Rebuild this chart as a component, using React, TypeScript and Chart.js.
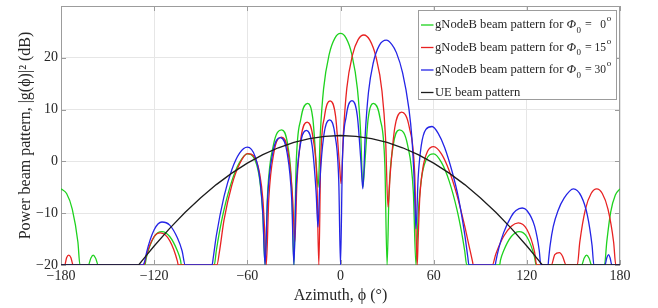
import React, { useEffect, useRef } from 'react';
import { Chart, registerables } from 'chart.js';

Chart.register(...registerables);

// ---------- axis / label content ----------
const X_TICKS = [-180, -120, -60, 0, 60, 120, 180];
const Y_TICKS = [-20, -10, 0, 10, 20];
const STEER_ANGLES = [0, 15, 30];
const SERIES_PREFIX = 'gNodeB beam pattern for ';
const UE_LABEL = 'UE beam pattern';
const X_TITLE = 'Azimuth, \u03D5 (\u00B0)';
const Y_TITLE = 'Power beam pattern, |g(\u03D5)|\u00B2 (dB)';

// ---------- data (azimuth in degrees, power in dB, clamped at -20) ----------
const GREEN_AZ = [
  -180, -176.4, -172.75, -169.1, -167.8, -162.4, -160.8, -159.3, -157.7, -156,
  -126, -125, -120, -115, -110, -105, -103, -102.5,
  -81.3, -80, -78, -75, -70, -65, -60, -55, -52, -50, -48.6,
  -46.9, -43.25, -37.9, -33.95, -31.26, -30,
  -28.58, -25.55, -21.1, -17.8, -15.56, -14.4,
  -13, -10.9, -7.25, -3.6, 0, 3.6, 7.25, 10.9, 13, 14.4,
  15.56, 17.8, 21.1, 25.55, 28.58, 30,
  31.26, 33.95, 37.9, 43.25, 46.9, 48.6,
  50, 52, 55, 60, 65, 70, 75, 78, 80, 81.3,
  102.5, 103, 105, 110, 115, 120, 125, 126,
  155.3, 156.9, 158.5, 160.1, 161.7,
  170, 171.5, 174, 177, 180,
];
const GREEN_DB = [
  -5.3, -6.2, -9.2, -15.6, -20, -20, -18.7, -18.1, -18.7, -20,
  -20, -18.5, -14.55, -13.55, -14.5, -17.3, -19.1, -20,
  -20, -17.3, -13.7, -9.3, -3.8, -0.2, 1.45, 0.2, -3.6, -10.4, -20,
  -5.9, 3.1, 6.1, 3.1, -5.9, -20,
  -0.8, 8.2, 11.2, 8.2, -0.8, -5.0,
  5.4, 14.0, 20.7, 23.8, 24.7, 23.8, 20.7, 14.0, 5.4, -5.0,
  -0.8, 8.2, 11.2, 8.2, -0.8, -20,
  -5.9, 3.1, 6.1, 3.1, -5.9, -20,
  -10.4, -3.6, 0.2, 1.45, -0.2, -3.8, -9.3, -13.7, -17.3, -20,
  -20, -19.1, -17.3, -14.5, -13.55, -14.55, -18.5, -20,
  -20, -18.7, -18.1, -18.7, -20,
  -20, -15.5, -9.8, -6.5, -5.3,
];

const RED_AZ = [
  -180, -177.6, -176.4, -175.0, -173.6, -172.2,
  -126.5, -125, -120, -116, -110, -105, -104.5,
  -79.6, -78, -75, -70, -65, -60, -55, -52, -50, -49, -47.8,
  -46.2, -42.9, -38.0, -33.7, -30.8, -29.4,
  -28.1, -25.45, -21.5, -17.7, -15.15, -13.95,
  -12.8, -10.3, -6.7, -3.15, -0.75, 0.4,
  1.85, 4.05, 7.7, 11.35, 15, 18.9, 22.8, 26.7, 29.0, 30.6,
  32.0, 34.95, 39.3, 44.35, 47.8, 49.4,
  50, 51, 53, 56, 60, 65, 70, 75, 80, 83, 85, 85.5,
  97.8, 100, 105, 110, 114.5, 120, 125, 126.3,
  135.8, 138, 141, 143, 145.3,
  152.5, 154.1, 157.75, 161.4, 165, 168.6, 172.25, 175.9, 177.3, 180,
];
const RED_DB = [
  -20, -20, -18.6, -18.1, -18.6, -20,
  -20, -18.1, -14.5, -13.8, -15.3, -19.3, -20,
  -20, -17.5, -11.3, -4.6, -0.5, 1.5, 0.6, -2.45, -7.3, -12.4, -20,
  -7.3, 1.7, 4.7, 1.7, -7.3, -15.5,
  -4.4, 4.6, 7.6, 4.6, -4.4, -20,
  -0.3, 8.7, 11.7, 8.7, -0.3, -4.3,
  5.3, 14.1, 20.5, 23.5, 24.4, 23.4, 20.2, 13.6, 4.6, -8.8,
  -2.5, 6.5, 9.5, 6.5, -2.5, -20,
  -15.0, -7.3, -1.4, 1.9, 2.85, 1.45, -1.8, -6.5, -12.5, -16.6, -19.3, -20,
  -20, -17.9, -14.5, -12.5, -11.85, -13.1, -17.5, -20,
  -20, -18.0, -17.6, -18.3, -20,
  -20, -15.6, -9.2, -6.2, -5.3, -6.2, -9.2, -15.6, -20, -20,
];

const BLUE_AZ = [
  -180, -127.5, -126, -125, -120, -115, -110, -105, -102, -100,
  -82.7, -82, -80, -75, -70, -65, -60, -55, -52, -50, -48.6,
  -47.0, -43.65, -38.7, -34.35, -31.4, -30,
  -28.7, -26, -22, -18.25, -15.7, -14.5,
  -13.3, -10.75, -7.0, -3.5, -1.1, 0,
  1.2, 3.7, 7.4, 10.85, 13.2, 14.4,
  16, 18, 21, 25, 29.5, 33, 36, 40, 44, 46, 47.5, 48.6,
  50, 52, 55, 59, 63, 67, 72, 76, 80, 82, 82.7,
  99.7, 100, 102, 105, 110, 113, 117, 120, 125, 128, 129,
  133.7, 134, 135, 137, 140, 144, 150, 155, 159, 162, 163.2,
  170.3, 171.5, 172.6, 173.6, 174.8, 180,
];
const BLUE_DB = [
  -20, -20, -19.2, -17.7, -13.2, -11.7, -12.3, -14.8, -17.3, -20,
  -20, -18.7, -14.4, -6.75, -1.6, 1.6, 2.77, 0.96, -3.2, -10.2, -20,
  -7.4, 1.6, 4.6, 1.6, -7.4, -20,
  -6.0, 3.0, 6.0, 3.0, -6.0, -12.7,
  -4.0, 5.0, 8.0, 5.0, -4.0, -20,
  -0.25, 8.75, 11.75, 8.75, -0.25, -5.3,
  5.5, 13.3, 18.9, 22.4, 23.4, 22.6, 21.0, 17.1, 10.3, 4.45, -3.9, -13.0,
  -3.2, 3.05, 6.2, 6.74, 5.37, 2.73, -2.1, -7.1, -14.1, -18.5, -20,
  -20, -19.4, -16.7, -13.8, -10.6, -9.5, -9.0, -9.46, -12.5, -17.2, -20,
  -20, -19.0, -16.2, -12.6, -9.56, -7.1, -5.3, -6.7, -10.4, -16.2, -20,
  -20, -18.6, -18.0, -18.6, -20, -20,
];

const UE_AZ = [
  -180, -130, -125, -120, -110, -100, -90, -80, -70, -60, -50, -40, -30, -20, -10,
  0, 10, 20, 30, 40, 50, 60, 70, 80, 90, 100, 110, 120, 125, 130, 180,
];
const UE_DB = [
  -20, -20, -18.15, -16.33, -12.93, -9.81, -7.0, -4.48, -2.26, -0.33, 1.3, 2.63, 3.67, 4.41, 4.85,
  5.0, 4.85, 4.41, 3.67, 2.63, 1.3, -0.33, -2.26, -4.48, -7.0, -9.81, -12.93, -16.33, -18.15, -20, -20,
];

// ---------- styles ----------
const FONT = '"Liberation Serif", "Times New Roman", Times, serif';
const TEXT_COLOR = '#262626';
const BOX_COLOR = '#9c9c9c';
const GRID_COLOR = '#e6e6e6';
const COLORS = ['#1ed21e', '#e82222', '#2424e6', '#1c1c1c'];

const toPoints = (az: number[], db: number[]) => az.map((x, i) => ({ x, y: db[i] }));
const fmt = (v: number) => String(v).replace('-', '\u2212');

const framePlugin = {
  id: 'matlabFrame',
  beforeDatasetsDraw(chart: any) {
    const { ctx, chartArea, scales } = chart;
    const { left, right, top, bottom } = chartArea;
    const xs = scales.x;
    const ys = scales.y;
    ctx.save();
    ctx.strokeStyle = BOX_COLOR;
    ctx.lineWidth = 1;
    ctx.strokeRect(left + 0.5, top + 0.5, right - left - 1, bottom - top - 1);
    const tl = 5;
    ctx.beginPath();
    X_TICKS.forEach((v) => {
      const px = Math.round(xs.getPixelForValue(v)) + 0.5;
      ctx.moveTo(px, bottom);
      ctx.lineTo(px, bottom - tl);
      ctx.moveTo(px, top);
      ctx.lineTo(px, top + tl);
    });
    Y_TICKS.forEach((v) => {
      const py = Math.round(ys.getPixelForValue(v)) + 0.5;
      ctx.moveTo(left, py);
      ctx.lineTo(left + tl, py);
      ctx.moveTo(right, py);
      ctx.lineTo(right - tl, py);
    });
    ctx.stroke();
    ctx.restore();
  },
  afterDatasetsDraw(chart: any) {
    const { ctx } = chart;
    ctx.save();
    const bx = 418.5, by = 10.5, bw = 198, bh = 89;
    ctx.fillStyle = '#ffffff';
    ctx.fillRect(bx, by, bw, bh);
    ctx.strokeStyle = BOX_COLOR;
    ctx.lineWidth = 1;
    ctx.strokeRect(bx, by, bw, bh);
    ctx.textBaseline = 'middle';
    for (let i = 0; i < 4; i++) {
      const cy = 25 + i * 22.5;
      ctx.strokeStyle = COLORS[i];
      ctx.lineWidth = 1.3;
      ctx.beginPath();
      ctx.moveTo(421, cy);
      ctx.lineTo(433.5, cy);
      ctx.stroke();
      ctx.fillStyle = TEXT_COLOR;
      ctx.textAlign = 'left';
      ctx.font = `12.6px ${FONT}`;
      if (i === 3) {
        ctx.fillText(UE_LABEL, 435, cy);
        continue;
      }
      ctx.fillText(SERIES_PREFIX, 435, cy);
      let x = 435 + ctx.measureText(SERIES_PREFIX).width;
      ctx.font = `italic 12.6px ${FONT}`;
      ctx.fillText('\u03A6', x, cy);
      x += ctx.measureText('\u03A6').width;
      ctx.font = `9px ${FONT}`;
      ctx.fillText('0', x + 0.5, cy + 5.5);
      ctx.font = `12px ${FONT}`;
      ctx.fillText('=', 585, cy);
      ctx.font = `11.5px ${FONT}`;
      ctx.textAlign = 'right';
      ctx.fillText(String(STEER_ANGLES[i]), 606, cy);
      ctx.textAlign = 'left';
      ctx.font = `9px ${FONT}`;
      ctx.fillText('o', 606.8, cy - 6);
    }
    ctx.restore();
  },
};

export default function App() {
  const ref = useRef<HTMLCanvasElement>(null);

  useEffect(() => {
    const canvas = ref.current;
    if (!canvas) return;
    const mk = (label: string, az: number[], db: number[], color: string, order: number, smooth: boolean) => ({
      label,
      data: toPoints(az, db),
      borderColor: color,
      backgroundColor: color,
      borderWidth: 1.3,
      pointRadius: 0,
      fill: false,
      order,
      tension: 0,
      cubicInterpolationMode: smooth ? 'monotone' : 'default',
      borderJoinStyle: 'round',
    });
    const chart = new Chart(canvas, {
      type: 'line',
      data: {
        datasets: [
          mk('gNodeB beam pattern for \u03A60 = 0\u00B0', GREEN_AZ, GREEN_DB, COLORS[0], 3, true),
          mk('gNodeB beam pattern for \u03A60 = 15\u00B0', RED_AZ, RED_DB, COLORS[1], 2, true),
          mk('gNodeB beam pattern for \u03A60 = 30\u00B0', BLUE_AZ, BLUE_DB, COLORS[2], 1, true),
          mk(UE_LABEL, UE_AZ, UE_DB, COLORS[3], 0, false),
        ] as any,
      },
      options: {
        responsive: false,
        animation: false,
        devicePixelRatio: 1,
        layout: { padding: { left: 0, right: 38, top: 6, bottom: 0 } },
        plugins: { legend: { display: false }, tooltip: { enabled: false } },
        scales: {
          x: {
            type: 'linear',
            min: -180,
            max: 180,
            afterBuildTicks: (s: any) => { s.ticks = X_TICKS.map((v) => ({ value: v })); },
            afterFit: (s: any) => { s.height = 43; s.paddingLeft = 0; s.paddingRight = 0; },
            grid: { color: GRID_COLOR, drawTicks: false, lineWidth: 1 },
            border: { display: false },
            ticks: {
              font: { family: FONT, size: 14 },
              color: TEXT_COLOR,
              padding: 3,
              maxRotation: 0,
              autoSkip: false,
              callback: (v: any) => fmt(Number(v)),
            },
            title: {
              display: true,
              text: X_TITLE,
              font: { family: FONT, size: 16 },
              color: TEXT_COLOR,
              padding: { top: 0, bottom: 3 },
            },
          },
          y: {
            type: 'linear',
            min: -20,
            max: 30,
            afterBuildTicks: (s: any) => { s.ticks = Y_TICKS.map((v) => ({ value: v })); },
            afterFit: (s: any) => { s.width = 61; s.paddingTop = 0; s.paddingBottom = 0; },
            grid: { color: GRID_COLOR, drawTicks: false, lineWidth: 1 },
            border: { display: false },
            ticks: {
              font: { family: FONT, size: 14 },
              color: TEXT_COLOR,
              padding: 3,
              callback: (v: any) => fmt(Number(v)),
            },
            title: {
              display: true,
              text: Y_TITLE,
              font: { family: FONT, size: 16 },
              color: TEXT_COLOR,
              padding: { top: 16, bottom: 0 },
            },
          },
        },
      } as any,
      plugins: [framePlugin],
    });
    return () => chart.destroy();
  }, []);

  return (
    <div style={{ position: 'absolute', left: 0, top: 0, width: 658, height: 308, background: '#ffffff' }}>
      <canvas ref={ref} width={658} height={308} style={{ display: 'block', width: 658, height: 308 }} />
    </div>
  );
}
